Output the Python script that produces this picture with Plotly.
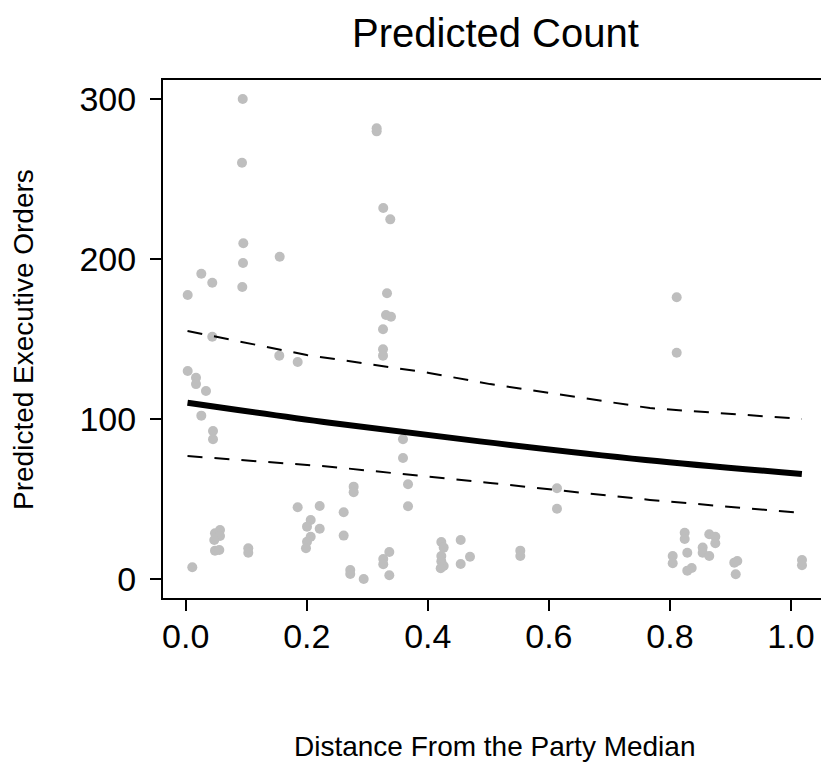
import plotly.graph_objects as go

# observed points (distance, executive orders)
obs_x = [0.0942, 0.0930, 0.0952, 0.0947, 0.1553, 0.0258, 0.0439, 0.0935, 0.0033, 0.0439,
         0.1546, 0.1850, 0.0033, 0.0170, 0.0170, 0.0335, 0.0258, 0.0451, 0.0451, 0.1850,
         0.2214, 0.2065, 0.2004, 0.2214, 0.2065, 0.2004, 0.1987, 0.0567, 0.0484, 0.0567,
         0.0472, 0.0484, 0.0555, 0.1034, 0.1034, 0.0109, 0.3155, 0.3155, 0.3264, 0.3380,
         0.3326, 0.3309, 0.3392, 0.3260, 0.3260, 0.3260, 0.3590, 0.3590, 0.3673, 0.3673,
         0.2775, 0.2775, 0.2610, 0.2610, 0.3364, 0.3264, 0.3264, 0.3364, 0.2719, 0.2719,
         0.2941, 0.4223, 0.4262, 0.4223, 0.4223, 0.4262, 0.4213, 0.4543, 0.4697, 0.4543,
         0.6134, 0.6134, 0.5528, 0.5528, 0.8112, 0.8112, 0.8244, 0.8244, 0.8650, 0.8750,
         0.8750, 0.8541, 0.8541, 0.8650, 0.8287, 0.8046, 0.8046, 0.8360, 0.8287, 0.9113,
         0.9063, 0.9087, 1.0182, 1.0182]
obs_y = [300.2, 260.4, 210.0, 197.7, 201.6, 191.0, 185.4, 182.7, 177.7, 151.6,
         139.8, 135.8, 130.2, 126.0, 122.0, 117.7, 102.3, 92.7, 87.5, 45.0,
         45.8, 37.1, 32.9, 31.6, 26.6, 23.5, 19.4, 30.8, 28.8, 27.1,
         24.6, 17.9, 18.3, 19.4, 16.6, 7.5, 281.9, 280.0, 232.1, 225.0,
         178.8, 165.2, 164.1, 156.3, 143.8, 139.8, 87.5, 75.8, 59.4, 45.6,
         57.9, 54.4, 41.9, 27.3, 17.1, 12.7, 9.4, 2.5, 5.8, 3.3,
         0.2, 23.3, 19.8, 14.6, 11.3, 8.3, 6.9, 24.6, 14.1, 9.6,
         56.9, 44.1, 17.9, 14.6, 176.3, 141.6, 29.1, 25.2, 28.1, 26.6,
         22.5, 19.8, 16.6, 14.6, 16.6, 14.6, 10.0, 7.1, 5.4, 11.4,
         10.4, 3.1, 12.1, 8.75]

# predicted count and confidence band
pred_x = [0.003, 0.238, 0.486, 0.760, 1.018]
pred_y = [110.4, 97.9, 86.2, 74.6, 65.8]
upper_x = [0.003, 0.200, 0.402, 0.503, 0.767, 1.018]
upper_y = [155.2, 140.2, 129.0, 122.0, 107.0, 100.2]
lower_x = [0.003, 0.238, 0.503, 0.767, 1.018]
lower_y = [77.0, 70.4, 60.2, 49.6, 41.4]

x_ticks = [0.0, 0.2, 0.4, 0.6, 0.8, 1.0]
y_ticks = [0, 100, 200, 300]

FONT = "Liberation Sans, Arial, Helvetica, sans-serif"

fig = go.Figure()
fig.add_trace(go.Scatter(x=obs_x, y=obs_y, mode="markers",
                         marker=dict(size=10, color="#bebebe", line=dict(width=0)),
                         showlegend=False, hoverinfo="skip"))
fig.add_trace(go.Scatter(x=upper_x, y=upper_y, mode="lines",
                         line=dict(color="black", width=2, dash="15px,12px"),
                         showlegend=False))
fig.add_trace(go.Scatter(x=lower_x, y=lower_y, mode="lines",
                         line=dict(color="black", width=2, dash="15px,12px"),
                         showlegend=False))
fig.add_trace(go.Scatter(x=pred_x, y=pred_y, mode="lines",
                         line=dict(color="black", width=6, shape="spline"),
                         showlegend=False))

axis_common = dict(showgrid=False, zeroline=False, ticks="outside", ticklen=11,
                   tickwidth=2, tickcolor="black", showline=True, linewidth=2,
                   linecolor="black", tickfont=dict(family=FONT, size=34, color="black"))

fig.update_xaxes(range=[-0.0375, 1.0496], tickvals=x_ticks,
                 ticktext=[f"{v:.1f}" for v in x_ticks], mirror=True,
                 ticklabelstandoff=-4, **axis_common)
fig.update_yaxes(range=[-11.7, 312.1], tickvals=y_ticks,
                 ticktext=[str(v) for v in y_ticks], ticklabelstandoff=7,
                 **axis_common)

fig.update_layout(
    width=821, height=762,
    margin=dict(l=163, r=0, t=80, b=164),
    paper_bgcolor="white", plot_bgcolor="white",
    font=dict(family=FONT, color="black"),
    annotations=[
        dict(text="Predicted Count", xref="paper", yref="paper", x=0.5046, y=1.090,
             xanchor="center", yanchor="middle", showarrow=False,
             font=dict(family=FONT, size=40, color="black")),
        dict(text="Predicted Executive Orders", xref="paper", yref="paper", x=-0.2128, y=0.5,
             xanchor="center", yanchor="middle", textangle=-90, showarrow=False,
             font=dict(family=FONT, size=28, color="black")),
        dict(text="Distance From the Party Median", xref="paper", yref="paper", x=0.5046,
             y=-0.2876, xanchor="center", yanchor="middle", showarrow=False,
             font=dict(family=FONT, size=28, color="black")),
    ],
)

fig.write_html("out.html", config={"displayModeBar": False},
               post_script="document.body.style.margin='0';document.body.style.padding='0';")
